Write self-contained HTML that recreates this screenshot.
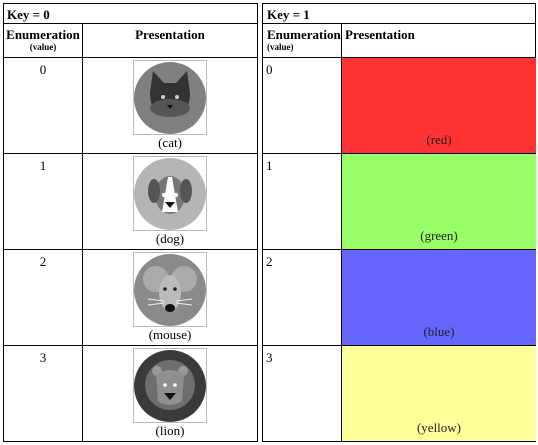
<!DOCTYPE html>
<html><head><meta charset="utf-8"><style>
body{margin:0;width:538px;height:445px;background:#fff;font-family:"Liberation Serif",serif;color:#000;position:relative;overflow:hidden}
.l{position:absolute;background:#000}
.t{position:absolute;font-size:13px;line-height:15px}
.b{font-weight:bold}
.cell{position:absolute}
.img{position:absolute;width:74px;height:75px;border:1px solid #bbb;box-sizing:border-box;background:#fff}
.cap{position:absolute;width:100px;text-align:center;font-size:13px}
.sw{position:absolute;left:342px;width:194px;height:95px}
.sw span{position:absolute;bottom:5px;width:100%;text-align:center;font-size:13px;color:#222}
</style></head><body>
<!-- left table lines -->
<div class="l" style="left:3px;top:3px;width:255px;height:1px"></div>
<div class="l" style="left:3px;top:23px;width:255px;height:1px"></div>
<div class="l" style="left:3px;top:57px;width:255px;height:1px"></div>
<div class="l" style="left:3px;top:153px;width:255px;height:1px"></div>
<div class="l" style="left:3px;top:249px;width:255px;height:1px"></div>
<div class="l" style="left:3px;top:345px;width:255px;height:1px"></div>
<div class="l" style="left:3px;top:441px;width:255px;height:1px"></div>
<div class="l" style="left:3px;top:3px;width:1px;height:439px"></div>
<div class="l" style="left:257px;top:3px;width:1px;height:439px"></div>
<div class="l" style="left:82px;top:23px;width:1px;height:419px"></div>
<!-- right table lines -->
<div class="l" style="left:262px;top:3px;width:274px;height:1px"></div>
<div class="l" style="left:262px;top:23px;width:274px;height:1px"></div>
<div class="l" style="left:262px;top:57px;width:274px;height:1px"></div>
<div class="l" style="left:262px;top:153px;width:274px;height:1px"></div>
<div class="l" style="left:262px;top:249px;width:274px;height:1px"></div>
<div class="l" style="left:262px;top:345px;width:274px;height:1px"></div>
<div class="l" style="left:262px;top:441px;width:274px;height:1px"></div>
<div class="l" style="left:262px;top:3px;width:1px;height:439px"></div>
<div class="l" style="left:535px;top:3px;width:1px;height:439px"></div>
<div class="l" style="left:341px;top:23px;width:1px;height:419px"></div>

<div class="t b" style="left:7px;top:7px">Key = 0</div>
<div class="t b" style="left:267px;top:7px">Key = 1</div>
<div class="t b" style="left:4px;top:27px;width:78px;text-align:center">Enumeration<div style="font-size:9px;line-height:11px">(value)</div></div>
<div class="t b" style="left:83px;top:27px;width:174px;text-align:center">Presentation</div>
<div class="t b" style="left:267px;top:27px">Enumeration<div style="font-size:9px;line-height:11px">(value)</div></div>
<div class="t b" style="left:345px;top:27px">Presentation</div>

<!-- rows -->
<div class="t" style="left:4px;top:62px;width:78px;text-align:center">0</div>
<div class="t" style="left:4px;top:158px;width:78px;text-align:center">1</div>
<div class="t" style="left:4px;top:254px;width:78px;text-align:center">2</div>
<div class="t" style="left:4px;top:350px;width:78px;text-align:center">3</div>
<div class="t" style="left:266px;top:62px">0</div>
<div class="t" style="left:266px;top:158px">1</div>
<div class="t" style="left:266px;top:254px">2</div>
<div class="t" style="left:266px;top:350px">3</div>

<div class="img" style="left:133px;top:60px"><svg width="72" height="73"><circle cx="36" cy="37" r="36" fill="#808080"/><path d="M16 32 L19 10 L30 22 L42 22 L53 10 L56 32 Q56 55 36 55 Q16 55 16 32Z" fill="#333"/><ellipse cx="36" cy="47" rx="20" ry="9" fill="#555"/><circle cx="29" cy="36" r="2" fill="#ccc"/><circle cx="43" cy="36" r="2" fill="#ccc"/><path d="M33 44 L39 44 L36 48Z" fill="#111"/></svg></div>
<div class="cap" style="left:120px;top:135px">(cat)</div>
<div class="img" style="left:133px;top:156px"><svg width="72" height="73"><circle cx="36" cy="37" r="36" fill="#b5b5b5"/><ellipse cx="36" cy="38" rx="15" ry="19" fill="#777"/><ellipse cx="20" cy="34" rx="6" ry="12" fill="#555"/><ellipse cx="52" cy="34" rx="6" ry="12" fill="#555"/><path d="M34 20 L38 20 L44 55 L28 55Z" fill="#fff"/><circle cx="30" cy="38" r="2" fill="#fff"/><circle cx="42" cy="38" r="2" fill="#fff"/><path d="M31 45 L41 45 L36 51Z" fill="#111"/></svg></div>
<div class="cap" style="left:120px;top:231px">(dog)</div>
<div class="img" style="left:133px;top:252px"><svg width="72" height="73"><circle cx="36" cy="37" r="36" fill="#8a8a8a"/><circle cx="22" cy="26" r="13" fill="#aaa"/><circle cx="50" cy="26" r="13" fill="#aaa"/><ellipse cx="36" cy="40" rx="11" ry="18" fill="#bbb"/><circle cx="31" cy="36" r="1.8" fill="#222"/><circle cx="41" cy="36" r="1.8" fill="#222"/><ellipse cx="36" cy="55" rx="5" ry="4" fill="#111"/><path d="M14 46 L30 48 M14 52 L30 50 M58 46 L42 48 M58 52 L42 50" stroke="#eee"/></svg></div>
<div class="cap" style="left:120px;top:327px">(mouse)</div>
<div class="img" style="left:133px;top:348px"><svg width="72" height="73"><circle cx="36" cy="37" r="36" fill="#3a3a3a"/><circle cx="36" cy="36" r="25" fill="#6e6e6e"/><circle cx="23" cy="22" r="5" fill="#999"/><circle cx="49" cy="22" r="5" fill="#999"/><path d="M22 26 Q36 16 50 26 L48 52 Q36 60 24 52Z" fill="#8f8f8f"/><circle cx="31" cy="36" r="1.8" fill="#fff"/><circle cx="41" cy="36" r="1.8" fill="#fff"/><path d="M30 44 L42 44 L36 51Z" fill="#111"/></svg></div>
<div class="cap" style="left:120px;top:423px">(lion)</div>

<div class="sw" style="top:58px;background:#ff3333"><span>(red)</span></div>
<div class="sw" style="top:154px;background:#99ff66"><span>(green)</span></div>
<div class="sw" style="top:250px;background:#6666ff"><span>(blue)</span></div>
<div class="sw" style="top:346px;background:#ffff99"><span>(yellow)</span></div>
</body></html>
